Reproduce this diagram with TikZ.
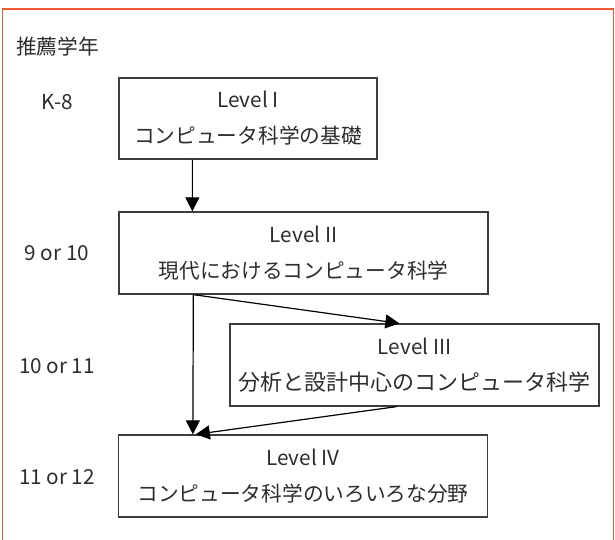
\documentclass[tikz,border=0pt]{standalone}
\usepackage{fontspec}
\setmainfont{Noto Sans CJK JP}
\usetikzlibrary{arrows.meta}
\definecolor{frameorange}{RGB}{240,90,50}
\definecolor{boxgray}{RGB}{60,60,60}
\definecolor{txtgray}{RGB}{45,45,45}
\tikzset{
  lvlbox/.style={draw=boxgray, line width=1.3bp, align=center, inner sep=0pt,
    minimum height=82bp, text=txtgray, font=\fontsize{20.7bp}{36bp}\selectfont},
  gradelbl/.style={text=txtgray, font=\fontsize{20.7bp}{24bp}\selectfont, inner sep=0pt},
  arr/.style={draw=black, line width=1.2bp, -{Triangle[length=14bp,width=14bp]}}
}
\begin{document}
\begin{tikzpicture}[x=1bp,y=-1bp]
\useasboundingbox (0,0) rectangle (615,540);
\clip (0,0) rectangle (615,540);
\fill[white] (0,0) rectangle (615,540);
\draw[frameorange, line width=1.5bp] (2.5,9) rectangle (613.5,560);

\node[gradelbl, anchor=west] (title) at (16,47) {推薦学年};
\node[gradelbl] (g1) at (57,102) {K-8};
\node[gradelbl] (g2) at (57,253) {9 or 10};
\node[gradelbl] (g3) at (57,366) {10 or 11};
\node[gradelbl] (g4) at (57,477) {11 or 12};

\node[lvlbox, minimum width=258bp, minimum height=81bp] (L1) at (248,118.5) {Level I\\コンピュータ科学の基礎};
\node[lvlbox, minimum width=369bp] (L2) at (303.5,253) {Level II\\現代におけるコンピュータ科学};
\node[lvlbox, minimum width=369bp] (L3) at (414.5,365) {Level III\\{\fontsize{22bp}{36bp}\selectfont 分析と設計中心のコンピュータ科学}};
\node[lvlbox, minimum width=369bp] (L4) at (303,476) {Level IV\\コンピュータ科学のいろいろな分野};

\draw[arr] ([xshift=74bp]L1.south west) -- ([xshift=74bp]L2.north west);
\draw[arr] ([xshift=75bp]L2.south west) -- ([xshift=75bp]L4.north west);
\draw[arr] ([xshift=75bp]L2.south west) -- ([xshift=170bp]L3.north west);
\draw[arr] ([xshift=167bp]L3.south west) -- ([xshift=78bp]L4.north west);
\end{tikzpicture}
\end{document}
